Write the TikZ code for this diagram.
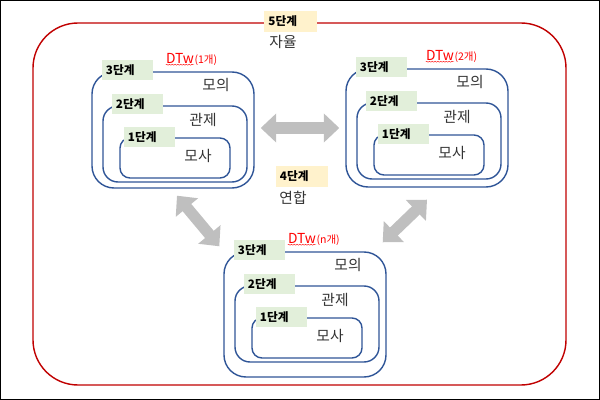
\documentclass[tikz,border=0pt]{standalone}
\usepackage{fontspec}
\setmainfont{Noto Sans CJK KR}
\usetikzlibrary{arrows.meta,fit,positioning,decorations.pathmorphing}
\definecolor{boxblue}{HTML}{2F5597}
\definecolor{framered}{HTML}{C00000}
\definecolor{labelgreen}{HTML}{E2EFDA}
\definecolor{labelyellow}{HTML}{FFF2CC}
\definecolor{arrowgray}{HTML}{BFBFBF}
\tikzset{
  stagebox/.style={draw=boxblue, line width=1pt, inner sep=0pt},
  levellabel/.style={fill=labelgreen, text width=1.075cm, align=left, inner xsep=0.1cm,
    inner ysep=0pt, minimum height=0.5cm, font=\bfseries\fontsize{8.3}{9}\selectfont},
  phaselabel/.style={fill=labelyellow, text width=1.1cm, align=left, inner xsep=0.1cm,
    inner ysep=0pt, minimum height=0.525cm, font=\bfseries\fontsize{8.3}{9}\selectfont},
  stagetext/.style={inner sep=0pt, text=black!80, font=\fontsize{10.5}{12}\selectfont},
  dtw/.style={inner sep=0pt, text=red, font=\fontsize{9.8}{11}\selectfont},
  squiggle/.style={red, line width=0.3pt, decorate,
    decoration={snake, amplitude=0.35pt, segment length=2pt}},
  bigarrow/.style={draw=arrowgray, line width=8pt,
    {Triangle[width=20pt,length=11pt]}-{Triangle[width=20pt,length=11pt]}}
}
\begin{document}
\begin{tikzpicture}[x=0.025cm, y=-0.025cm]
  \useasboundingbox (0,0) rectangle (600,400);
  \draw[black, line width=1pt] (0.7,0.7) rectangle (599.3,399.3);
  % outer red frame: stage 5
  \node (Z5) [draw=framered, line width=1pt, rounded corners=1.125cm, inner sep=0pt,
    fit={(33,23) (566,385)}] {};
  \node (Z5l) [phaselabel] at (290.5,21.5) {5단계};
  \node (Z5t) [stagetext] at (283,42) {자율};
  % stage 4
  \node (Z4l) [phaselabel] at (302,176.5) {4단계};
  \node (Z4t) [stagetext] at (293,198) {연합};
  % three groups of stages 1-3
  \foreach \g/\ox/\oy/\h/\dx/\n in {A/92/72/116/88/1, B/346/69/118/94/2, C/224/252/125/78/n} {
    \node (\g3) [stagebox, rounded corners=0.55cm, fit={(\ox,\oy) (\ox+162,\oy+\h)}] {};
    \node (\g2) [stagebox, rounded corners=0.375cm, fit={(\ox+11,\oy+34) (\ox+155,\oy+110)}] {};
    \node (\g1) [stagebox, rounded corners=0.25cm, fit={(\ox+28,\oy+66) (\ox+138,\oy+106)}] {};
    \node (\g3l) [levellabel] at (\ox+35.5,\oy-2) {3단계};
    \node (\g2l) [levellabel] at (\ox+45.5,\oy+32) {2단계};
    \node (\g1l) [levellabel] at (\ox+57.5,\oy+65) {1단계};
    \node (\g3t) [stagetext] at (\ox+124,\oy+13) {모의};
    \node (\g2t) [stagetext] at (\ox+111,\oy+48) {관제};
    \node (\g1t) [stagetext] at (\ox+106,\oy+84) {모사};
    \node (\g3d) [dtw] at (\ox+\dx,\oy-14) {DTw};
    \node (\g3n) [dtw, anchor=base west, font=\fontsize{7.5}{8}\selectfont]
      at (\g3d.base east) {(\n{}개)};
    \draw[squiggle] ([yshift=-1pt]\g3d.south west) -- ([yshift=-1pt]\g3d.south east);
  }
  % arrows between groups
  \draw[bigarrow] ([shift={(6,-2)}]A3.east) -- ([shift={(-6,0)}]B3.west);
  \draw[bigarrow] ([shift={(4,7)}]A3.south) -- ([shift={(-4,-5)}]C3.north west);
  \draw[bigarrow] ([shift={(0,12)}]B3.south) -- ([shift={(-4,-9)}]C3.north east);
\end{tikzpicture}
\end{document}
